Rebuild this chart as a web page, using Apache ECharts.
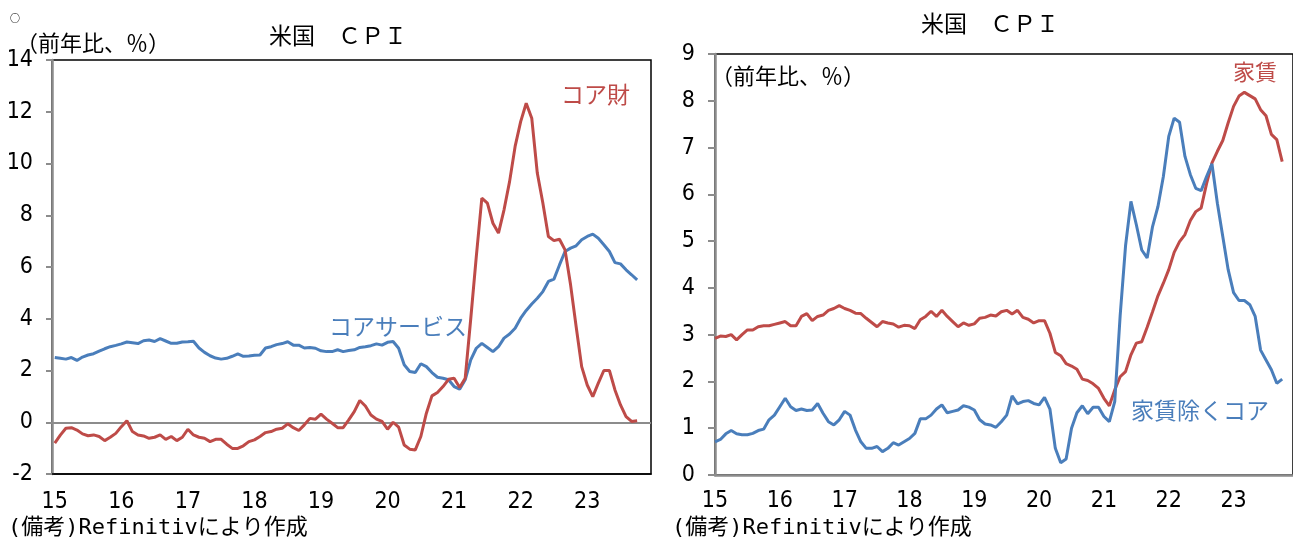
<!DOCTYPE html>
<html>
<head>
<meta charset="utf-8">
<script src="https://cdn.jsdelivr.net/npm/echarts@6/dist/echarts.min.js"></script>
<style>
  html, body { margin: 0; padding: 0; background: #fff; }
  #c { width: 1293px; height: 541px; }
</style>
</head>
<body>
<div id="c"></div>
<script>
// Monthly categories Jan 2015 - Dec 2023; year tick labels
const years = [2015, 2016, 2017, 2018, 2019, 2020, 2021, 2022, 2023];
const yearLabels = ['15', '16', '17', '18', '19', '20', '21', '22', '23'];
const months = [];
years.forEach(y => { for (let m = 1; m <= 12; m++) months.push(y + '-' + (m < 10 ? '0' : '') + m); });

// US CPI, year-on-year %, Jan 2015 - Oct 2023
const coreServices = [
  2.50, 2.47, 2.44, 2.50, 2.39, 2.52, 2.60, 2.65, 2.75, 2.84, 2.92, 2.97,
  3.03, 3.10, 3.07, 3.04, 3.15, 3.18, 3.12, 3.23, 3.14, 3.05, 3.05, 3.10,
  3.11, 3.13, 2.87, 2.70, 2.57, 2.48, 2.44, 2.47, 2.55, 2.64, 2.55, 2.56,
  2.59, 2.60, 2.87, 2.92, 3.00, 3.04, 3.11, 2.98, 2.98, 2.87, 2.89, 2.86,
  2.76, 2.73, 2.73, 2.80, 2.73, 2.77, 2.80, 2.89, 2.92, 2.96, 3.03, 2.98,
  3.09, 3.12, 2.86, 2.22, 1.96, 1.92, 2.26, 2.15, 1.92, 1.74, 1.70, 1.64,
  1.38, 1.28, 1.64, 2.41, 2.86, 3.05, 2.89, 2.73, 2.92, 3.25, 3.41, 3.63,
  4.02, 4.32, 4.57, 4.79, 5.05, 5.44, 5.53, 6.08, 6.60, 6.73, 6.82, 7.05,
  7.18, 7.27, 7.11, 6.86, 6.60, 6.17, 6.12, 5.89, 5.70, 5.50
];
const coreGoods = [
  -0.81, -0.50, -0.23, -0.21, -0.30, -0.45, -0.52, -0.49, -0.55, -0.71, -0.58, -0.43,
  -0.17, 0.06, -0.36, -0.49, -0.53, -0.62, -0.58, -0.49, -0.66, -0.55, -0.71, -0.58,
  -0.27, -0.49, -0.58, -0.62, -0.75, -0.66, -0.66, -0.85, -1.01, -1.01, -0.91, -0.75,
  -0.68, -0.55, -0.40, -0.36, -0.27, -0.23, -0.06, -0.21, -0.32, -0.10, 0.15, 0.12,
  0.31, 0.12, -0.04, -0.21, -0.21, 0.09, 0.41, 0.84, 0.63, 0.28, 0.12, 0.03,
  -0.27, 0.00, -0.19, -0.88, -1.04, -1.07, -0.55, 0.35, 1.02, 1.15, 1.38, 1.66,
  1.70, 1.34, 1.70, 4.00, 6.40, 8.66, 8.47, 7.69, 7.31, 8.21, 9.30, 10.66,
  11.62, 12.33, 11.75, 9.63, 8.47, 7.18, 7.02, 7.07, 6.66, 5.31, 3.70, 2.15,
  1.44, 0.99, 1.51, 2.00, 2.00, 1.25, 0.67, 0.22, 0.03, 0.06
];
const rent = [
  2.92, 2.97, 2.96, 3.00, 2.89, 3.00, 3.10, 3.10, 3.17, 3.19, 3.19, 3.22,
  3.25, 3.28, 3.19, 3.19, 3.39, 3.45, 3.30, 3.39, 3.42, 3.52, 3.56, 3.62,
  3.56, 3.52, 3.46, 3.45, 3.35, 3.26, 3.17, 3.28, 3.25, 3.23, 3.16, 3.20,
  3.19, 3.13, 3.32, 3.39, 3.50, 3.39, 3.52, 3.39, 3.28, 3.17, 3.25, 3.20,
  3.23, 3.35, 3.37, 3.42, 3.40, 3.49, 3.52, 3.44, 3.52, 3.37, 3.33, 3.25,
  3.30, 3.30, 3.03, 2.62, 2.55, 2.38, 2.33, 2.26, 2.05, 2.02, 1.95, 1.85,
  1.64, 1.48, 1.82, 2.10, 2.21, 2.57, 2.82, 2.85, 3.16, 3.49, 3.83, 4.10,
  4.39, 4.76, 4.99, 5.14, 5.44, 5.63, 5.71, 6.23, 6.67, 6.92, 7.15, 7.53,
  7.88, 8.10, 8.18, 8.11, 8.04, 7.81, 7.68, 7.28, 7.17, 6.70
];
const coreExRent = [
  0.71, 0.76, 0.88, 0.95, 0.88, 0.86, 0.86, 0.89, 0.95, 0.98, 1.18, 1.28,
  1.46, 1.64, 1.46, 1.38, 1.41, 1.38, 1.39, 1.53, 1.32, 1.14, 1.07, 1.18,
  1.36, 1.28, 0.96, 0.71, 0.57, 0.57, 0.61, 0.50, 0.57, 0.69, 0.64, 0.71,
  0.78, 0.89, 1.20, 1.20, 1.28, 1.41, 1.50, 1.33, 1.36, 1.39, 1.48, 1.45,
  1.39, 1.18, 1.09, 1.07, 1.02, 1.14, 1.28, 1.69, 1.52, 1.57, 1.59, 1.53,
  1.50, 1.66, 1.41, 0.57, 0.26, 0.34, 1.00, 1.33, 1.48, 1.31, 1.45, 1.45,
  1.25, 1.14, 1.57, 3.40, 4.90, 5.85, 5.35, 4.81, 4.64, 5.31, 5.74, 6.38,
  7.24, 7.63, 7.54, 6.81, 6.42, 6.13, 6.08, 6.38, 6.65, 5.81, 5.10, 4.39,
  3.90, 3.73, 3.73, 3.64, 3.39, 2.67, 2.46, 2.25, 1.96, 2.05
];

const BLUE = '#4a7ebb';
const RED = '#be4b48';
const AXIS_GRAY = '#8c8c8c';
const CJK = "'Noto Sans CJK JP', sans-serif";
const NOTE = "'DejaVu Sans Mono', 'Noto Sans CJK JP', monospace";
const NUM = "'Liberation Sans Narrow', 'DejaVu Sans Condensed', sans-serif";

function yearTick(index) { return index % 12 === 0; }
function yearText(value, index) { return yearLabels[Math.floor(index / 12)]; }

function text(str, x, y, color, size, align, family) {
  return {
    type: 'text', silent: true,
    style: {
      text: str, x: x, y: y, fill: color,
      fontSize: size, fontFamily: family || CJK,
      textAlign: align || 'left', textVerticalAlign: 'middle'
    }
  };
}

const chart = echarts.init(document.getElementById('c'), null, { renderer: 'canvas', width: 1293, height: 541 });

chart.setOption({
  animation: false,
  backgroundColor: '#fff',
  grid: [
    { left: 52, top: 60, width: 599, height: 414, show: true, borderColor: '#000', borderWidth: 1.5 },
    { left: 715, top: 54, width: 587, height: 421, show: true, borderColor: '#000', borderWidth: 1.5 }
  ],
  xAxis: [
    {
      gridIndex: 0, type: 'category', data: months, boundaryGap: true,
      axisLine: { onZero: false, lineStyle: { color: '#000', width: 1.5 } },
      axisTick: { show: false },
      axisLabel: { interval: yearTick, formatter: yearText, margin: 17, color: '#000', fontSize: 23, fontFamily: NUM }
    },
    {
      gridIndex: 1, type: 'category', data: months, boundaryGap: false,
      axisLine: { onZero: false, lineStyle: { color: AXIS_GRAY, width: 2.5 } },
      axisTick: { show: false },
      axisLabel: { interval: yearTick, formatter: yearText, margin: 15, color: '#000', fontSize: 23, fontFamily: NUM }
    }
  ],
  yAxis: [
    {
      gridIndex: 0, type: 'value', min: -2, max: 14, interval: 2,
      axisLine: { show: true, lineStyle: { color: AXIS_GRAY, width: 2.5 } },
      axisTick: { show: true, length: 6, lineStyle: { color: AXIS_GRAY, width: 2 } },
      splitLine: { show: false },
      axisLabel: { margin: 19, color: '#000', fontSize: 23, fontFamily: NUM }
    },
    {
      gridIndex: 1, type: 'value', min: 0, max: 9, interval: 1,
      axisLine: { show: true, lineStyle: { color: AXIS_GRAY, width: 2.5 } },
      axisTick: { show: true, length: 7, lineStyle: { color: AXIS_GRAY, width: 2 } },
      splitLine: { show: false },
      axisLabel: { margin: 20, color: '#000', fontSize: 23, fontFamily: NUM }
    }
  ],
  series: [
    {
      name: 'コアサービス', type: 'line', xAxisIndex: 0, yAxisIndex: 0, data: coreServices,
      showSymbol: false, symbol: 'none', lineStyle: { color: BLUE, width: 3 }, itemStyle: { color: BLUE }
    },
    {
      name: 'コア財', type: 'line', xAxisIndex: 0, yAxisIndex: 0, data: coreGoods,
      showSymbol: false, symbol: 'none', lineStyle: { color: RED, width: 3 }, itemStyle: { color: RED },
      markLine: {
        silent: true, symbol: 'none', label: { show: false }, z: 1,
        lineStyle: { color: AXIS_GRAY, width: 2, type: 'solid' },
        data: [{ yAxis: 0 }]
      }
    },
    {
      name: '家賃', type: 'line', xAxisIndex: 1, yAxisIndex: 1, data: rent,
      showSymbol: false, symbol: 'none', lineStyle: { color: RED, width: 3 }, itemStyle: { color: RED }
    },
    {
      name: '家賃除くコア', type: 'line', xAxisIndex: 1, yAxisIndex: 1, data: coreExRent,
      showSymbol: false, symbol: 'none', lineStyle: { color: BLUE, width: 3 }, itemStyle: { color: BLUE }
    }
  ],
  graphic: [
    text('○', 10, 18, '#000', 10),
    text('米国　ＣＰＩ', 338, 35, '#000', 23, 'center'),
    text('（前年比、％）', 16, 43, '#000', 22),
    text('コア財', 561, 94, RED, 23),
    text('コアサービス', 329, 326, BLUE, 23),
    text('米国　ＣＰＩ', 990, 23, '#000', 23, 'center'),
    text('（前年比、％）', 711, 76, '#000', 22),
    text('家賃', 1233, 72, RED, 22),
    text('家賃除くコア', 1131, 410, BLUE, 23),
    text('(備考)Refinitivにより作成', 8, 528, '#000', 22, 'left', NOTE),
    text('(備考)Refinitivにより作成', 672, 528, '#000', 22, 'left', NOTE)
  ]
});
</script>
</body>
</html>
